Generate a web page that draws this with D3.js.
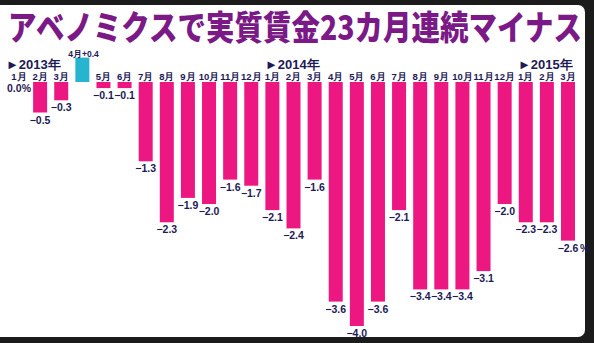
<!DOCTYPE html>
<html><head><meta charset="utf-8">
<script src="https://cdn.jsdelivr.net/npm/d3@7"></script>
<style>html,body{margin:0;padding:0;background:#1b1b1b;}svg{display:block;}</style>
</head><body>
<svg id="c" width="594" height="343"></svg>
<script>
const months = ["1月","2月","3月","4月","5月","6月","7月","8月","9月","10月","11月","12月",
                "1月","2月","3月","4月","5月","6月","7月","8月","9月","10月","11月","12月",
                "1月","2月","3月"];
const values = [0.0,-0.5,-0.3,0.4,-0.1,-0.1,-1.3,-2.3,-1.9,-2.0,-1.6,-1.7,
                -2.1,-2.4,-1.6,-3.6,-4.0,-3.6,-2.1,-3.4,-3.4,-3.4,-3.1,-2.0,
                -2.3,-2.3,-2.6];
const yearLabels = ["►2013年","►2014年","►2015年"];
const title = "アベノミクスで実質賃金23カ月連続マイナス";

const svg = d3.select("#c");
svg.append("rect").attr("x",0).attr("y",0).attr("width",594).attr("height",343).attr("fill","#1b1b1b");
svg.append("rect").attr("x",-8).attr("y",5).attr("width",593).attr("height",332).attr("rx",7).attr("fill","#ffffff");

const tt = svg.append("text").attr("x",0).attr("y",0).text(title)
  .attr("font-family","'Noto Sans CJK JP'").attr("font-weight",900).attr("font-size",34)
  .attr("fill","#7b1a86");
const natural = tt.node().getComputedTextLength();
tt.attr("transform",`translate(8,39.5) scale(${574/natural},1)`);

const idx = d3.range(values.length);
const x = d3.scalePoint().domain(idx).range([19, 568]);
const y = d3.scaleLinear().domain([0,-4]).range([82,326]);
const bw = 14;
const navy = "#1d1a55";
const lf = "'Liberation Sans', Arial, sans-serif";

svg.selectAll("rect.bar").data(idx.filter(i=>values[i]!==0)).enter().append("rect")
  .attr("class","bar")
  .attr("x",i=>x(i)-bw/2).attr("width",bw)
  .attr("y",i=>Math.min(y(0),y(values[i])))
  .attr("height",i=>Math.abs(y(values[i])-y(0)))
  .attr("fill",i=>values[i]>0?"#27b4cf":"#ec1781");

const fmt = v => (v<0?"−":"")+Math.abs(v).toFixed(1);

svg.selectAll("text.m").data(idx.filter(i=>values[i]<=0)).enter().append("text")
  .attr("x",i=>x(i)).attr("y",80).attr("text-anchor","middle")
  .attr("font-family",lf).attr("font-weight","bold").attr("font-size",9.5).attr("fill",navy)
  .text(i=>months[i]);

svg.selectAll("text.v").data(idx.filter(i=>values[i]<=0)).enter().append("text")
  .attr("x",i=>x(i)).attr("y",i=>values[i]===0?92:y(values[i])+11)
  .attr("text-anchor","middle")
  .attr("font-family",lf).attr("font-weight","bold").attr("font-size",10.5).attr("fill",navy)
  .text((i)=>values[i]===0?"0.0%":fmt(values[i]));
const li = values.length-1;
svg.append("text").attr("x",x(li)+12).attr("y",y(values[li])+11)
  .attr("font-family",lf).attr("font-weight","bold").attr("font-size",10.5).attr("fill",navy).text("%");

idx.filter(i=>values[i]>0).forEach(i=>{
  svg.append("text").attr("x",x(i)-14).attr("y",y(values[i])-0.5)
    .attr("font-family",lf).attr("font-weight","bold").attr("font-size",8.5).attr("fill",navy)
    .text(months[i]+"+"+values[i].toFixed(1));
});

const yx = [6,265,518];
yearLabels.forEach((t,k)=>{
  svg.append("text").attr("x",yx[k]).attr("y",69)
    .attr("font-family",lf).attr("font-weight","bold").attr("font-size",13).attr("fill",navy)
    .text(t);
});
</script>
</body></html>
